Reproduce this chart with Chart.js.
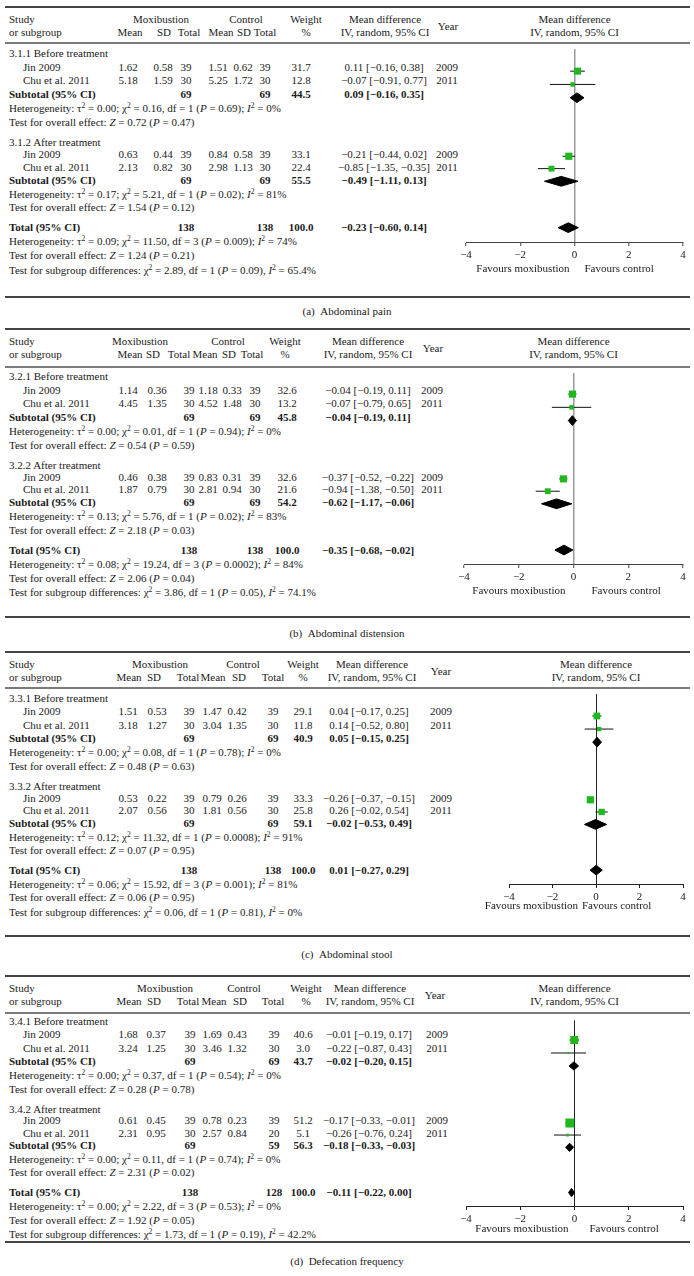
<!DOCTYPE html>
<html>
<head>
<meta charset="utf-8">
<script src="https://cdn.jsdelivr.net/npm/chart.js@4.4.1/dist/chart.umd.min.js"></script>
<style>
body { margin: 0; background: #fff; }
#page { position: relative; width: 694px; height: 1276px; overflow: hidden;
        font-family: "Liberation Serif", "DejaVu Serif", serif; font-size: 11px; color: #1a1a1a; }
.t { position: absolute; white-space: nowrap; line-height: 12px; }
.c { transform: translateX(-50%); }
.b { font-weight: bold; }
.rule { position: absolute; left: 5px; width: 685px; }
sup { font-size: 7.5px; line-height: 0; vertical-align: baseline; position: relative; top: -4px; }
canvas { position: absolute; }
</style>
</head>
<body>
<div id="page"></div>
<script>
// ---- data ----
const panelLabels = ["(a)", "(b)", "(c)", "(d)"];
const outcomes = ["Abdominal pain", "Abdominal distension", "Abdominal stool", "Defecation frequency"];
const subgroups = [
    ["3.1.1 Before treatment", "3.1.2 After treatment"],
    ["3.2.1 Before treatment", "3.2.2 After treatment"],
    ["3.3.1 Before treatment", "3.3.2 After treatment"],
    ["3.4.1 Before treatment", "3.4.2 After treatment"]
];
const studies = ["Jin 2009", "Chu et al. 2011"];
const years = ["2009", "2011"];

// [outcome][subgroup][study]
const moxMean = [[[1.62, 5.18], [0.63, 2.13]], [[1.14, 4.45], [0.46, 1.87]], [[1.51, 3.18], [0.53, 2.07]], [[1.68, 3.24], [0.61, 2.31]]];
const moxSD   = [[[0.58, 1.59], [0.44, 0.82]], [[0.36, 1.35], [0.38, 0.79]], [[0.53, 1.27], [0.22, 0.56]], [[0.37, 1.25], [0.45, 0.95]]];
const moxN    = [[[39, 30], [39, 30]], [[39, 30], [39, 30]], [[39, 30], [39, 30]], [[39, 30], [39, 30]]];
const ctlMean = [[[1.51, 5.25], [0.84, 2.98]], [[1.18, 4.52], [0.83, 2.81]], [[1.47, 3.04], [0.79, 1.81]], [[1.69, 3.46], [0.78, 2.57]]];
const ctlSD   = [[[0.62, 1.72], [0.58, 1.13]], [[0.33, 1.48], [0.31, 0.94]], [[0.42, 1.35], [0.26, 0.56]], [[0.43, 1.32], [0.23, 0.84]]];
const ctlN    = [[[39, 30], [39, 30]], [[39, 30], [39, 30]], [[39, 30], [39, 30]], [[39, 30], [39, 20]]];
const weight  = [[[31.7, 12.8], [33.1, 22.4]], [[32.6, 13.2], [32.6, 21.6]], [[29.1, 11.8], [33.3, 25.8]], [[40.6, 3.0], [51.2, 5.1]]];
const md      = [[[0.11, -0.07], [-0.21, -0.85]], [[-0.04, -0.07], [-0.37, -0.94]], [[0.04, 0.14], [-0.26, 0.26]], [[-0.01, -0.22], [-0.17, -0.26]]];
const ciLow   = [[[-0.16, -0.91], [-0.44, -1.35]], [[-0.19, -0.79], [-0.52, -1.38]], [[-0.17, -0.52], [-0.37, -0.02]], [[-0.19, -0.87], [-0.33, -0.76]]];
const ciHigh  = [[[0.38, 0.77], [0.02, -0.35]], [[0.11, 0.65], [-0.22, -0.50]], [[0.25, 0.80], [-0.15, 0.54]], [[0.17, 0.43], [-0.01, 0.24]]];

// subtotals [outcome][subgroup]
const subMoxN   = [[69, 69], [69, 69], [69, 69], [69, 69]];
const subCtlN   = [[69, 69], [69, 69], [69, 69], [69, 59]];
const subWeight = [[44.5, 55.5], [45.8, 54.2], [40.9, 59.1], [43.7, 56.3]];
const subMd     = [[0.09, -0.49], [-0.04, -0.62], [0.05, -0.02], [-0.02, -0.18]];
const subLow    = [[-0.16, -1.11], [-0.19, -1.17], [-0.15, -0.53], [-0.20, -0.33]];
const subHigh   = [[0.35, 0.13], [0.11, -0.06], [0.25, 0.49], [0.15, -0.03]];

// totals [outcome]
const totMoxN = [138, 138, 138, 138];
const totCtlN = [138, 138, 138, 128];
const totMd   = [-0.23, -0.35, 0.01, -0.11];
const totLow  = [-0.60, -0.68, -0.27, -0.22];
const totHigh = [0.14, -0.02, 0.29, 0.00];

// heterogeneity [outcome][sub1, sub2, total] -> tau2, chi2, df, P, I2
const hetStats = [
    [["0.00", "0.16", "1", "0.69", "0"], ["0.17", "5.21", "1", "0.02", "81"], ["0.09", "11.50", "3", "0.009", "74"]],
    [["0.00", "0.01", "1", "0.94", "0"], ["0.13", "5.76", "1", "0.02", "83"], ["0.08", "19.24", "3", "0.0002", "84"]],
    [["0.00", "0.08", "1", "0.78", "0"], ["0.12", "11.32", "1", "0.0008", "91"], ["0.06", "15.92", "3", "0.001", "81"]],
    [["0.00", "0.37", "1", "0.54", "0"], ["0.00", "0.11", "1", "0.74", "0"], ["0.00", "2.22", "3", "0.53", "0"]]
];
// overall effect [outcome][sub1, sub2, total] -> Z, P
const effectZ = [
    [["0.72", "0.47"], ["1.54", "0.12"], ["1.24", "0.21"]],
    [["0.54", "0.59"], ["2.18", "0.03"], ["2.06", "0.04"]],
    [["0.48", "0.63"], ["0.07", "0.95"], ["0.06", "0.95"]],
    [["0.28", "0.78"], ["2.31", "0.02"], ["1.92", "0.05"]]
];
// subgroup differences -> chi2, df, P, I2
const subgroupDiff = [["2.89", "1", "0.09", "65.4"], ["3.86", "1", "0.05", "74.1"], ["0.06", "1", "0.81", "0"], ["1.73", "1", "0.19", "42.2"]];
const xTicks = [-4, -2, 0, 2, 4];

// ---- layout ----
// row slots: heading, study, study, subtotal, het, test (x2), total, het, test, subgroup diff
const slots = [0, 1, 2, 3, 4.05, 5.05, 6.55, 7.4, 8.33, 9.28, 10.3, 11.3, 12.77, 13.8, 14.83, 15.89];
const panels = [
    { top: 7, hdr: 43, first: 53, L: 13.65, bottom: 297, cap: 311, plotL: 466, plotR: 683,
      zeroColor: "#9a9a9a", zeroW: 1.5, axisColor: "#444", favGap: [5, 10], favSlot: 15.89, dh: 5,
      cols: [128, 163, 186, 218, 243, 265, 301, 384, 447], hcols: [130, 164, 189, 221, 244, 265, 306, 385, 448], grp: [161, 246] },
    { top: 329, hdr: 367, first: 376, L: 13.6, bottom: 617, cap: 633, plotL: 464, plotR: 683,
      zeroColor: "#9a9a9a", zeroW: 1.5, axisColor: "#444", favGap: [8, 18], favSlot: 15.89, dh: 5,
      cols: [128, 157, 189, 208, 232, 255, 287, 368, 432], hcols: [130, 153, 179, 205, 229, 252, 285, 368, 433], grp: [140, 228] },
    { top: 652, hdr: 688, first: 698, L: 13.45, bottom: 936, cap: 954, plotL: 509, plotR: 683,
      zeroColor: "#222", zeroW: 1, axisColor: "#222", favGap: [18, -14], favSlot: 15.5, dh: 5,
      cols: [128, 157, 189, 212, 237, 273, 303, 369, 441], hcols: [129, 154, 188, 213, 239, 273, 303, 372, 441], grp: [160, 243] },
    { top: 976, hdr: 1013, first: 1021, L: 13.4, bottom: 1242, cap: 1261, plotL: 466, plotR: 683,
      zeroColor: "#222", zeroW: 1, axisColor: "#222", favGap: [6, 15], favSlot: 15.6, dh: 4.3,
      cols: [128, 156, 190, 212, 237, 274, 303, 369, 437], hcols: [129, 154, 188, 214, 240, 273, 306, 370, 435], grp: [165, 244] }
];

const FONT = '"Liberation Serif", "DejaVu Serif", serif';
const FS = 11;
const page = document.getElementById("page");

function f2(v) { return (v < 0 ? "\u2212" : "") + Math.abs(v).toFixed(2); }
function ci(m, lo, hi) { return f2(m) + " [" + f2(lo) + ", " + f2(hi) + "]"; }

function put(x, y, html, cls) {
    const d = document.createElement("div");
    d.className = "t " + (cls || "");
    d.style.left = x + "px";
    d.style.top = (y - 6) + "px";
    d.innerHTML = html;
    page.appendChild(d);
}
function rule(y, h, color) {
    const d = document.createElement("div");
    d.className = "rule";
    d.style.top = (y - h / 2) + "px";
    d.style.height = h + "px";
    d.style.background = color;
    page.appendChild(d);
}
function hetText(s) {
    return "Heterogeneity: \u03c4<sup>2</sup> = " + s[0] + "; \u03c7<sup>2</sup> = " + s[1] + ", df = " + s[2] +
        " (<i>P</i> = " + s[3] + "); <i>I</i><sup>2</sup> = " + s[4] + "%";
}
function zText(s) { return "Test for overall effect: <i>Z</i> = " + s[0] + " (<i>P</i> = " + s[1] + ")"; }
function diffText(s) {
    return "Test for subgroup differences: \u03c7<sup>2</sup> = " + s[0] + ", df = " + s[1] +
        " (<i>P</i> = " + s[2] + "), <i>I</i><sup>2</sup> = " + s[3] + "%";
}

const favoursPlugin = {
    id: "favours",
    afterDraw(chart, args, opts) {
        const ctx = chart.ctx;
        const x0 = chart.scales.x.getPixelForValue(0);
        const y = chart.scales.y.getPixelForValue(opts.slot);
        ctx.save();
        ctx.font = FS + "px " + FONT;
        ctx.fillStyle = "#1a1a1a";
        ctx.textBaseline = "middle";
        ctx.textAlign = "right";
        ctx.fillText("Favours moxibustion", x0 - opts.gap[0], y);
        ctx.textAlign = "left";
        ctx.fillText("Favours control", x0 + opts.gap[1], y);
        ctx.restore();
    }
};

function drawPanel(p) {
    const g = panels[p];
    const c = g.cols, h = g.hcols;
    const rowY = s => g.first + s * g.L;
    const zeroX = (g.plotL + g.plotR) / 2;

    // rules and caption
    rule(g.top, 1.4, "#444");
    rule(g.hdr, 2, "#7a7a7a");
    rule(g.bottom, 1.4, "#444");
    put(347, g.cap, panelLabels[p] + "&nbsp;&nbsp;" + outcomes[p], "c");

    // header
    const y1 = g.top + 12, y2 = g.top + 25;
    put(9, y1, "Study");
    put(9, y2, "or subgroup");
    put(g.grp[0], y1, "Moxibustion", "c");
    put(g.grp[1], y1, "Control", "c");
    ["Mean", "SD", "Total", "Mean", "SD", "Total"].forEach((s, i) => put(h[i], y2, s, "c"));
    put(h[6], y1, "Weight", "c");
    put(h[6], y2, "%", "c");
    put(h[7], y1, "Mean difference", "c");
    put(h[7], y2, "IV, random, 95% CI", "c");
    put(h[8], (y1 + y2) / 2, "Year", "c");
    put(zeroX, y1, "Mean difference", "c");
    put(zeroX, y2, "IV, random, 95% CI", "c");

    // table rows
    for (let k = 0; k < 2; k++) {
        put(9, rowY(slots[6 * k]), subgroups[p][k]);
        for (let j = 0; j < 2; j++) {
            const y = rowY(slots[6 * k + 1 + j]);
            put(23, y, studies[j]);
            put(c[0], y, moxMean[p][k][j].toFixed(2), "c");
            put(c[1], y, moxSD[p][k][j].toFixed(2), "c");
            put(c[2], y, moxN[p][k][j], "c");
            put(c[3], y, ctlMean[p][k][j].toFixed(2), "c");
            put(c[4], y, ctlSD[p][k][j].toFixed(2), "c");
            put(c[5], y, ctlN[p][k][j], "c");
            put(c[6], y, weight[p][k][j].toFixed(1), "c");
            put(c[7], y, ci(md[p][k][j], ciLow[p][k][j], ciHigh[p][k][j]), "c");
            put(c[8], y, years[j], "c");
        }
        const ys = rowY(slots[6 * k + 3]);
        put(9, ys, "Subtotal (95% CI)", "b");
        put(c[2], ys, subMoxN[p][k], "c b");
        put(c[5], ys, subCtlN[p][k], "c b");
        put(c[6], ys, subWeight[p][k].toFixed(1), "c b");
        put(c[7], ys, ci(subMd[p][k], subLow[p][k], subHigh[p][k]), "c b");
        put(9, rowY(slots[6 * k + 4]), hetText(hetStats[p][k]));
        put(9, rowY(slots[6 * k + 5]), zText(effectZ[p][k]));
    }
    const yt = rowY(slots[12]);
    put(9, yt, "Total (95% CI)", "b");
    put(c[2], yt, totMoxN[p], "c b");
    put(c[5], yt, totCtlN[p], "c b");
    put(c[6], yt, "100.0", "c b");
    put(c[7], yt, ci(totMd[p], totLow[p], totHigh[p]), "c b");
    put(9, rowY(slots[13]), hetText(hetStats[p][2]));
    put(9, rowY(slots[14]), zText(effectZ[p][2]));
    put(9, rowY(slots[15]), diffText(subgroupDiff[p]));

    // forest plot
    const padX = 45;
    const canvasTop = g.hdr + 1;
    const axisY = Math.round(rowY(slots[12] + 1.05));
    const axisH = Math.round(rowY(g.favSlot) + 8 - axisY);
    const W = g.plotR - g.plotL + 2 * padX;
    const H = axisY - canvasTop + axisH;
    const cv = document.createElement("canvas");
    cv.width = W; cv.height = H;
    cv.style.width = W + "px"; cv.style.height = H + "px";
    cv.style.left = (g.plotL - padX) + "px";
    cv.style.top = canvasTop + "px";
    page.appendChild(cv);

    const sq = [], sqR = [], ciSets = [], dia = [];
    for (let k = 0; k < 2; k++) {
        for (let j = 0; j < 2; j++) {
            const s = slots[6 * k + 1 + j];
            sq.push({ x: md[p][k][j], y: s });
            sqR.push(1.25 * Math.sqrt(weight[p][k][j]) / Math.SQRT2);
            ciSets.push({
                type: "line", data: [{ x: ciLow[p][k][j], y: s }, { x: ciHigh[p][k][j], y: s }],
                borderColor: "#111", borderWidth: 1, pointRadius: 0, fill: false
            });
        }
    }
    const dh = g.dh / g.L;
    function diamond(m, lo, hi, s) {
        return {
            type: "line",
            data: [{ x: lo, y: s }, { x: m, y: s - dh }, { x: hi, y: s }, { x: m, y: s + dh }, { x: lo, y: s }],
            borderColor: "#000", backgroundColor: "#000", borderWidth: 1, pointRadius: 0, fill: "shape", tension: 0
        };
    }
    dia.push(diamond(subMd[p][0], subLow[p][0], subHigh[p][0], slots[3]));
    dia.push(diamond(subMd[p][1], subLow[p][1], subHigh[p][1], slots[9]));
    dia.push(diamond(totMd[p], totLow[p], totHigh[p], slots[12]));

    new Chart(cv, {
        type: "scatter",
        data: {
            datasets: [
                { type: "scatter", data: sq, pointStyle: "rect", pointRadius: sqR, backgroundColor: "#1fb81f", borderWidth: 0 }
            ].concat(ciSets, dia)
        },
        options: {
            responsive: false,
            animation: false,
            events: [],
            layout: { padding: { left: padX, right: padX, top: 0, bottom: 0 } },
            plugins: { legend: { display: false }, tooltip: { enabled: false }, favours: { slot: g.favSlot, gap: g.favGap } },
            scales: {
                x: {
                    type: "linear", min: xTicks[0], max: xTicks[xTicks.length - 1],
                    afterFit: s => { s.height = axisH; },
                    afterBuildTicks: s => { s.ticks = xTicks.map(v => ({ value: v })); },
                    ticks: {
                        padding: 3, color: "#1a1a1a", font: { family: FONT, size: FS },
                        callback: v => (v < 0 ? "\u2212" + Math.abs(v) : String(v))
                    },
                    grid: {
                        color: ctx => (ctx.tick && ctx.tick.value === 0 ? g.zeroColor : "rgba(0,0,0,0)"),
                        lineWidth: g.zeroW, tickColor: g.axisColor, tickWidth: 1, tickLength: 4
                    },
                    border: { display: true, color: g.axisColor, width: 1 }
                },
                y: {
                    type: "linear", display: false, reverse: true,
                    min: (canvasTop - g.first) / g.L,
                    max: (axisY - g.first) / g.L
                }
            }
        },
        plugins: [favoursPlugin]
    });
}

for (let p = 0; p < 4; p++) drawPanel(p);
</script>
</body>
</html>
